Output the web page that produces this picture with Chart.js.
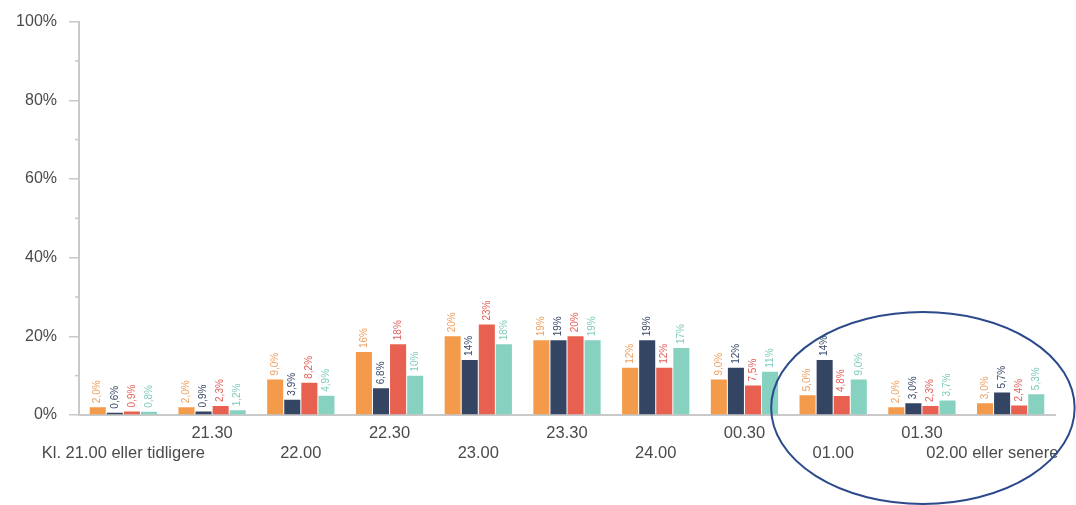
<!DOCTYPE html>
<html>
<head>
<meta charset="utf-8">
<script src="https://cdn.jsdelivr.net/npm/chart.js@4.4.1/dist/chart.umd.min.js"></script>
<style>
  html, body { margin: 0; background: #fff; }
  #wrap { width: 1076px; height: 505px; }
</style>
</head>
<body>
<div id="wrap"><canvas id="c"></canvas></div>
<script>
const categories = ['Kl. 21.00 eller tidligere', '21.30', '22.00', '22.30', '23.00', '23.30',
  '24.00', '00.30', '01.00', '01.30', '02.00 eller senere']

// four series, values in percent
const serie1 = [2.0, 2.0, 9.0, 16, 20, 19, 12, 9.0, 5.0, 2.0, 3.0]
const serie2 = [0.6, 0.9, 3.9, 6.8, 14, 19, 19, 12, 14, 3.0, 5.7]
const serie3 = [0.9, 2.3, 8.2, 18, 23, 20, 12, 7.5, 4.8, 2.3, 2.4]
const serie4 = [0.8, 1.2, 4.9, 10, 18, 19, 17, 11, 9.0, 3.7, 5.3]

const yTicks = [0, 20, 40, 60, 80, 100]

const barColors = ['#F39B4B', '#344563', '#E8604F', '#87D1C1']
const labelColors = ['#EFA060', '#3A4A68', '#E2625A', '#7FCBBB']
const font = '"Liberation Sans", Arial, sans-serif'

// norsk format: 2,0% under 10, ellers heltall
const fmt = v => (v < 10 ? v.toFixed(1).replace('.', ',') : Math.round(v)) + '%'

const barLabels = {
  id: 'barLabels',
  afterDatasetsDraw (chart) {
    const ctx = chart.ctx
    ctx.save()
    ctx.font = '10px ' + font
    ctx.textAlign = 'left'
    ctx.textBaseline = 'middle'
    chart.data.datasets.forEach((ds, i) => {
      chart.getDatasetMeta(i).data.forEach((bar, j) => {
        ctx.save()
        ctx.translate(bar.x, bar.y - 4)
        ctx.rotate(-Math.PI / 2)
        ctx.fillStyle = labelColors[i]
        ctx.fillText(fmt(ds.data[j]), 0, 0)
        ctx.restore()
      })
    })
    ctx.restore()
  }
}

// small ticks between the labelled ones + the hand-drawn circle
const extras = {
  id: 'extras',
  afterDraw (chart) {
    const ctx = chart.ctx
    const x = chart.scales.x
    const y = chart.scales.y
    ctx.save()
    ctx.strokeStyle = '#c8c8c8'
    ctx.lineWidth = 1.5
    for (let v = 10; v < 100; v += 20) {
      const py = y.getPixelForValue(v)
      ctx.beginPath()
      ctx.moveTo(x.left - 4, py)
      ctx.lineTo(x.left, py)
      ctx.stroke()
    }
    const step = x.getPixelForValue(1) - x.getPixelForValue(0)
    const cx = x.getPixelForValue(9) + 1
    const cy = y.getPixelForValue(1.8)
    const rx = step * 1.71
    const ry = y.getPixelForValue(0) - y.getPixelForValue(24.4)
    ctx.strokeStyle = '#2B4A8B'
    ctx.lineWidth = 2
    ctx.beginPath()
    ctx.ellipse(cx, cy, rx, ry, 0, 0, Math.PI * 2)
    ctx.stroke()
    ctx.restore()
  }
}

const series = [serie1, serie2, serie3, serie4]

new Chart(document.getElementById('c'), {
  type: 'bar',
  data: {
    labels: categories,
    datasets: series.map((d, i) => ({
      label: 'Serie ' + (i + 1),
      data: d,
      backgroundColor: barColors[i],
      categoryPercentage: 0.77,
      barPercentage: 0.94
    }))
  },
  options: {
    responsive: true,
    maintainAspectRatio: false,
    animation: false,
    layout: { padding: { top: 20, right: 21, left: 0, bottom: 0 } },
    plugins: {
      legend: { display: false },
      tooltip: { enabled: false }
    },
    scales: {
      x: {
        grid: { display: false, drawTicks: false },
        border: { color: '#c9c9c9', width: 2 },
        ticks: {
          autoSkip: false,
          maxRotation: 0,
          minRotation: 0,
          padding: 9,
          color: '#4a4a4a',
          font: { family: font, size: 16.5 },
          // excel-style staggered labels on two rows
          callback: (v, i) => {
            let t = categories[i]
            if (i === categories.length - 1) t = t + ' '.repeat(8)
            return i % 2 === 0 ? ['', t] : [t, '']
          }
        },
        afterFit: s => { s.height = 90; s.paddingLeft = 0; s.paddingRight = 0 }
      },
      y: {
        min: 0,
        max: 100,
        afterBuildTicks: s => { s.ticks = yTicks.map(v => ({ value: v })) },
        grid: { drawOnChartArea: false, drawTicks: true, tickLength: 10, color: '#c8c8c8', lineWidth: 1.5 },
        border: { color: '#c9c9c9', width: 2 },
        ticks: {
          padding: 12,
          color: '#4a4a4a',
          font: { family: font, size: 16 },
          callback: v => v + '%'
        },
        afterFit: s => { s.width = 79 }
      }
    }
  },
  plugins: [barLabels, extras]
})
</script>
</body>
</html>
